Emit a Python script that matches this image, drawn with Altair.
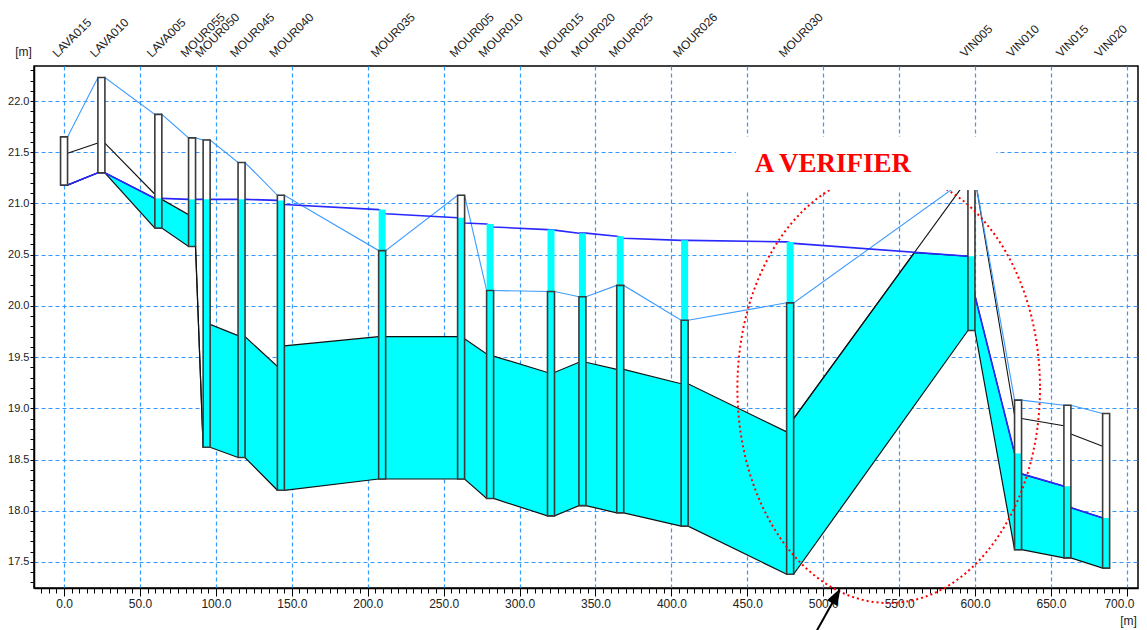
import altair as alt
import pandas as pd

# ---------------- data ----------------
NAMES = ["LAVA015", "LAVA010", "LAVA005", "MOUR055", "MOUR050", "MOUR045", "MOUR040",
         "MOUR035", "MOUR005", "MOUR010", "MOUR015", "MOUR020", "MOUR025", "MOUR026",
         "MOUR030", "VIN005", "VIN010", "VIN015", "VIN020"]
CHAINAGE = [0.0, 24.6, 62.1, 84.3, 93.9, 116.9, 142.8, 209.5, 261.5, 280.6, 320.7,
            341.4, 366.3, 408.7, 478.2, 597.6, 628.3, 660.8, 686.3]
# bank top (light-blue line, top of the section boxes)
BANK_TOP = [21.65, 22.23, 21.87, 21.64, 21.62, 21.40, 21.08, 20.54, 21.08, 20.15, 20.14,
            20.09, 20.20, 19.86, 20.03, 21.25, 19.08, 19.03, 18.95]
# bed level (bottom of the section boxes)
BED = [21.18, 21.30, 20.76, 20.58, 18.62, 18.52, 18.20, 18.31, 18.31, 18.12, 17.95,
       18.05, 17.98, 17.85, 17.38, 19.76, 17.62, 17.54, 17.44]
# water level at the upstream / downstream side of each section
WL_IN = [21.18, 21.30, 21.05, 21.04, 21.04, 21.04, 21.03, 20.94, 20.86, 20.80, 20.745,
         20.71, 20.68, 20.64, 20.625, 20.485, 18.56, 18.24, 17.93]
WL_OUT = [21.18, 21.30, 21.05, 21.04, 21.04, 21.04, 20.99, 20.90, 20.81, 20.77, 20.74,
          20.71, 20.66, 20.64, 20.61, 20.10, 18.36, 18.03, 17.93]
# top of the cyan filling between sections
FILL_IN = [21.18, 21.30, 21.05, 20.89, 18.62, 19.71, 19.41, 19.70, 19.70, 19.53, 19.35,
           19.45, 19.38, 19.24, 18.77, 20.485, 18.56, 18.24, 17.93]
FILL_OUT = [21.18, 21.30, 21.04, 20.58, 19.82, 19.70, 19.61, 19.70, 19.68, 19.51, 19.35,
            19.45, 19.38, 19.24, 18.90, 20.10, 18.36, 18.03, 17.93]
# vertex where the filling meets the water line between MOUR030 and VIN005
KINK_CH, KINK_BED, KINK_TOP = 560.0, 19.02, 20.52
# second bank (black line) where drawn above the filling
BANK2_IN = [None, 21.59, 21.09, None, None, None, None, None, None, None, None,
            None, None, None, None, 21.24, 18.93, 18.83, 18.63]
BANK2_OUT = [21.49, 21.59, None, None, None, None, None, None, None, None, None,
             None, None, None, 18.90, 21.25, 18.90, 18.75, None]

X_DOMAIN = [-16.5, 704.0]
Y_DOMAIN = [17.246, 22.342]
X_TICKS = list(range(-15, 705, 5))
Y_TICKS = [round(17.3 + 0.1 * i, 1) for i in range(51)]

NOTE_TEXT = "A VERIFIER"
NOTE_CH, NOTE_Z = 506.3, 21.307
BOX_CH = [442.4, 614.0]
BOX_Z = [21.131, 21.649]
ELLIPSE_CH, ELLIPSE_Z = 543.1, 19.198
ARROW_CH = [492.4, 508.6]
ARROW_Z = [16.74, 17.17]

# ---------------- layout / style ----------------
W, H = 1104, 522
PX_PER_M = W / (X_DOMAIN[1] - X_DOMAIN[0])
HALF = 3.5 / PX_PER_M
FONT = "Liberation Sans"
GRID = "#3399FF"
CYAN = "#00FFFF"

MAJ_X = "datum.value % 50 === 0"
LAST_X = "datum.value === 700"
MAJ_Y = "abs(datum.value * 2 - round(datum.value * 2)) < 0.001"

x_scale = alt.Scale(domain=X_DOMAIN, nice=False, zero=False)
y_scale = alt.Scale(domain=Y_DOMAIN, nice=False, zero=False)

x_axis = alt.Axis(
    values=X_TICKS,
    labelExpr=f"{MAJ_X} ? format(datum.value, '.1f') : ''",
    labelOverlap=False, labelFlush=False,
    labelAlign={"condition": {"test": LAST_X, "value": "right"}, "value": "center"},
    labelOffset={"condition": {"test": LAST_X, "value": 7}, "value": 0},
    labelFont=FONT, labelFontSize=12, labelColor="#222", labelPadding=2,
    tickSize={"condition": {"test": MAJ_X, "value": 8}, "value": 5},
    tickColor="black",
    grid=True, gridColor=GRID, gridDash=[4, 3], gridWidth=1.2,
    gridOpacity={"condition": {"test": MAJ_X, "value": 1}, "value": 0},
    domainColor="black", domainWidth=1.5,
    title="[m]", titleX=1094, titleY=36, titleAngle=0, titleAlign="center",
    titleBaseline="alphabetic", titleFont=FONT, titleFontSize=12,
    titleFontWeight="normal", titleColor="#222",
)
y_axis = alt.Axis(
    values=Y_TICKS,
    labelExpr=f"{MAJ_Y} ? format(datum.value, '.1f') : ''",
    labelOverlap=False, labelFlush=False,
    labelFont=FONT, labelFontSize=11, labelColor="#222", labelPadding=1,
    tickSize=4, tickColor="black",
    grid=True, gridColor=GRID, gridDash=[4, 3], gridWidth=1.2,
    gridOpacity={"condition": {"test": MAJ_Y, "value": 1}, "value": 0},
    domainColor="black", domainWidth=1.5,
    title="[m]", titleX=-11, titleY=-11, titleAngle=0, titleAlign="center",
    titleBaseline="alphabetic", titleFont=FONT, titleFontSize=12,
    titleFontWeight="normal", titleColor="#222",
)


def X(f):
    return alt.X(f, type="quantitative", scale=x_scale, axis=x_axis)


def Y(f):
    return alt.Y(f, type="quantitative", scale=y_scale, axis=y_axis)


# ---------------- tables ----------------
rows = []
for i in range(len(NAMES)):
    rows.append(dict(x=CHAINAGE[i] - HALF, bed=BED[i], ftop=FILL_IN[i], wl=WL_IN[i], top=BANK_TOP[i]))
    rows.append(dict(x=CHAINAGE[i] + HALF, bed=BED[i], ftop=FILL_OUT[i], wl=WL_OUT[i], top=BANK_TOP[i]))
edges = pd.DataFrame(rows)

fill_df = pd.concat([edges[["x", "bed", "ftop"]],
                     pd.DataFrame([dict(x=KINK_CH, bed=KINK_BED, ftop=KINK_TOP)])])
fill_df = fill_df.sort_values("x").reset_index(drop=True)

segs = []
for i in range(len(NAMES) - 1):
    if BANK2_OUT[i] is not None and BANK2_IN[i + 1] is not None:
        segs.append(dict(seg=i, x=CHAINAGE[i] + HALF, z=BANK2_OUT[i]))
        segs.append(dict(seg=i, x=CHAINAGE[i + 1] - HALF, z=BANK2_IN[i + 1]))
bank2 = pd.DataFrame(segs)

sec = pd.DataFrame(dict(name=NAMES, ch=CHAINAGE, top=BANK_TOP, bed=BED, wl=WL_IN))

# ---------------- layers ----------------
fill = alt.Chart(fill_df).mark_area(color=CYAN, opacity=1, orient="vertical").encode(
    x=X("x"), y=Y("bed"), y2=alt.Y2("ftop"))
bed_line = alt.Chart(edges).mark_line(color="#111", strokeWidth=1.2).encode(x=X("x"), y=Y("bed"))
fill_line = alt.Chart(fill_df).mark_line(color="#111", strokeWidth=1.2).encode(
    x=X("x"), y=Y("ftop"))
bank2_line = alt.Chart(bank2).mark_line(color="#111", strokeWidth=1.1).encode(
    x=X("x"), y=Y("z"), detail="seg:N")
top_line = alt.Chart(edges).mark_line(color="#3D9BFF", strokeWidth=1.1).encode(x=X("x"), y=Y("top"))
wl_line = alt.Chart(edges).mark_line(color="#2828FF", strokeWidth=1.6).encode(x=X("x"), y=Y("wl"))

box_white = alt.Chart(sec).mark_bar(size=7, color="white").encode(x=X("ch"), y=Y("bed"), y2="top")
box_cyan = alt.Chart(sec).mark_bar(size=7, color=CYAN).encode(x=X("ch"), y=Y("bed"), y2="wl")
box_line = alt.Chart(sec).mark_bar(size=7, fillOpacity=0, fill="white", stroke="#3a3a3a",
                                   strokeWidth=1.6).encode(x=X("ch"), y=Y("bed"), y2="top")

labels = alt.Chart(sec).mark_text(angle=315, align="left", baseline="alphabetic", dx=-4.6,
                                  dy=-4.6, font=FONT, fontSize=12, color="#222").encode(
    x=X("ch"), y=alt.value(-8), text="name:N")

k = 215 / 151.3
c = 0.5523
ELLIPSE_PATH = (f"M1,0 C1,{c*k:.4f} {c:.4f},{k:.4f} 0,{k:.4f} "
                f"C{-c:.4f},{k:.4f} -1,{c*k:.4f} -1,0 "
                f"C-1,{-c*k:.4f} {-c:.4f},{-k:.4f} 0,{-k:.4f} "
                f"C{c:.4f},{-k:.4f} 1,{-c*k:.4f} 1,0 Z")
ell_df = pd.DataFrame(dict(x=[ELLIPSE_CH], z=[ELLIPSE_Z]))
ellipse = alt.Chart(ell_df).mark_point(shape=ELLIPSE_PATH, size=(2 * 151.3) ** 2, filled=False,
                                       stroke="red", strokeWidth=2, strokeDash=[2, 3],
                                       opacity=1).encode(x=X("x"), y=Y("z"))

box_df = pd.DataFrame(dict(x0=[BOX_CH[0]], x1=[BOX_CH[1]], z0=[BOX_Z[0]], z1=[BOX_Z[1]]))
note_box = alt.Chart(box_df).mark_rect(color="white").encode(
    x=X("x0"), x2="x1", y=Y("z0"), y2="z1")
note_df = pd.DataFrame(dict(x=[NOTE_CH], z=[NOTE_Z], t=[NOTE_TEXT]))
note = alt.Chart(note_df).mark_text(font="Liberation Serif", fontWeight="bold", fontSize=27,
                                    color="red", align="center", baseline="alphabetic").encode(
    x=X("x"), y=Y("z"), text="t:N")

arr_df = pd.DataFrame(dict(x0=[ARROW_CH[0]], x1=[ARROW_CH[1]], z0=[ARROW_Z[0]], z1=[ARROW_Z[1]]))
arrow_line = alt.Chart(arr_df).mark_rule(color="black", strokeWidth=2).encode(
    x=X("x0"), x2="x1", y=Y("z0"), y2="z1")
arrow_head = alt.Chart(arr_df).mark_point(shape="M0,-1L0.7,1L-0.7,1Z", size=289, filled=True,
                                          color="black", opacity=1, angle=29.2).encode(
    x=X("x1"), y=Y("z1"))

chart = alt.layer(
    fill, bed_line, fill_line, bank2_line, top_line, wl_line,
    box_white, box_cyan, box_line,
    ellipse, note_box, note, arrow_line, arrow_head, labels,
).properties(
    width=W, height=H,
    autosize=alt.AutoSizeParams(type="none"),
    padding={"left": 26, "top": 58, "right": 1, "bottom": 42},
    background="white",
).configure_view(stroke="black", strokeWidth=1.5)

chart.save("out.html", embed_options={"renderer": "svg", "actions": False})
